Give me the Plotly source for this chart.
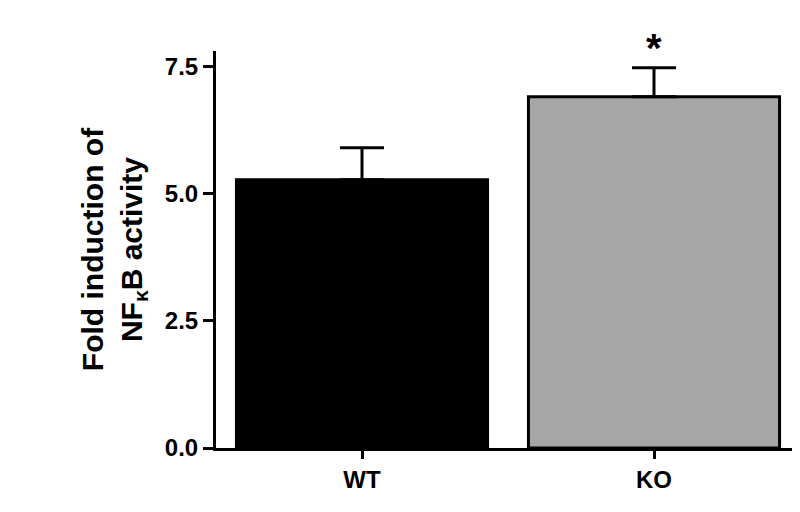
import plotly.graph_objects as go

groups = ['WT', 'KO']
means = [5.27, 6.9]
errors = [0.63, 0.57]
colors = ['#000000', '#a6a6a6']
y_ticks = [0, 2.5, 5, 7.5]
y_labels = ['0.0', '2.5', '5.0', '7.5']

fig = go.Figure()
fig.add_trace(go.Bar(
    x=groups, y=means, width=0.86,
    marker=dict(color=colors, line=dict(color='black', width=3)),
    error_y=dict(type='data', array=errors, arrayminus=[0, 0], symmetric=False,
                 color='black', thickness=3, width=22),
))

fig.add_annotation(x='KO', y=means[1] + errors[1], text='<b>*</b>', showarrow=False,
                   yanchor='bottom', yshift=-4, font=dict(size=40, color='black'))

fig.update_layout(
    width=800, height=512, plot_bgcolor='white', paper_bgcolor='white',
    margin=dict(l=208, r=8, t=43, b=72), showlegend=False,
    font=dict(family='Liberation Sans, Arial, sans-serif', color='black'),
)
fig.update_xaxes(range=[-0.5, 1.5], showline=True, linecolor='black', linewidth=3,
                 ticks='outside', tickwidth=3, ticklen=8, tickcolor='black',
                 tickvals=groups, ticktext=['<b>%s</b>' % g for g in groups],
                 tickfont=dict(size=24))
fig.update_yaxes(range=[0, 7.8], tickvals=y_ticks, ticktext=['<b>%s</b>' % t for t in y_labels],
                 showline=True, linecolor='black', linewidth=3, showgrid=False, zeroline=False,
                 ticks='outside', tickwidth=3, ticklen=10, tickcolor='black',
                 tickfont=dict(size=24),
                 title=dict(text='<b>Fold induction of<br>NF<sub>κ</sub>B activity</b>',
                            font=dict(size=30), standoff=14))

fig.write_html('out.html')
